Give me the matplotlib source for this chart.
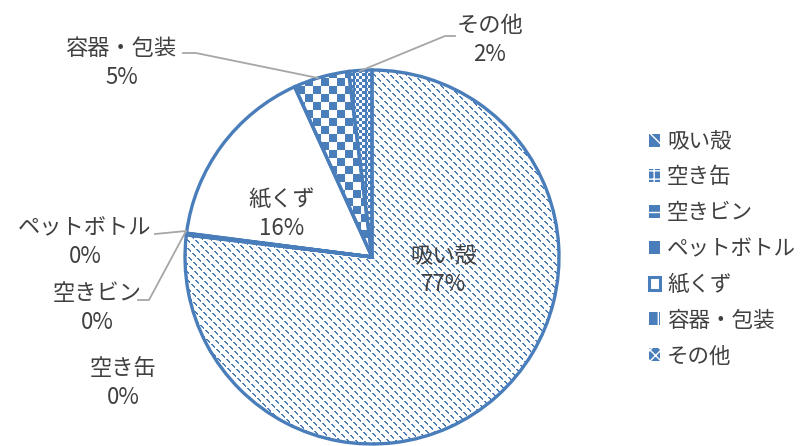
import numpy as np
import matplotlib
matplotlib.use("Agg")
import matplotlib.pyplot as plt
from matplotlib.patches import Patch
from matplotlib.colors import ListedColormap

plt.rcParams['font.family'] = ['Noto Sans CJK JP', 'DejaVu Sans']

categories = ['吸い殻', '空き缶', '空きビン', 'ペットボトル', '紙くず', '容器・包装', 'その他']
values = [77.0, 0.05, 0.05, 0.05, 16.2, 4.8, 2.0]

BLUE = '#4A7EBB'
TXT = '#404040'
GRAY = '#A6A6A6'

W, H = 809, 446
fig = plt.figure(figsize=(W / 100, H / 100), dpi=100)
cx, cy, R = 372, 257, 187
ax = fig.add_axes([(cx - R) / W, (H - cy - R) / H, 2 * R / W, 2 * R / H])

faces = ['white', BLUE, BLUE, BLUE, 'white', 'white', 'white']
wedges, _ = ax.pie(values, startangle=90, counterclock=False, radius=1,
                   colors=faces, wedgeprops=dict(linewidth=0))
for w in wedges:
    w.set_zorder(1)

# pattern images
N = 2 * R
rr, cc = np.mgrid[0:N, 0:N]
diag = (((cc - rr) % 8) < 2) & (((cc + rr) % 10) < 7)
checker = (((rr // 8) + (cc // 8)) % 2 == 0)
fine = (((rr // 3) + (cc // 3)) % 2 == 0) | ((cc % 12) < 2)

cmap = ListedColormap(['white', BLUE])
for idx, pat in [(0, diag), (5, checker), (6, fine)]:
    im = ax.imshow(pat.astype(float), cmap=cmap, vmin=0, vmax=1,
                   extent=(-1, 1, -1, 1), interpolation='nearest', zorder=2)
    im.set_clip_path(wedges[idx])

# edges on top
edge_w, _ = ax.pie(values, startangle=90, counterclock=False, radius=1,
                   wedgeprops=dict(fill=False, edgecolor=BLUE, linewidth=2.4))
for w in edge_w:
    w.set_zorder(3)

ax.set_xlim(-1, 1)
ax.set_ylim(-1, 1)
ax.set_aspect('equal')
ax.axis('off')

def P(px, py):
    return ((px - cx) / R, (cy - py) / R)

total = sum(values)
labels = [f"{c}\n{round(v / total * 100):.0f}%" for c, v in zip(categories, values)]
label_pos = {
    0: (444, 270),
    1: (123, 383),
    2: (97, 308),
    3: (85, 242),
    4: (282, 214),
    5: (122, 63),
    6: (490, 40),
}
for i, lab in enumerate(labels):
    x, y = P(*label_pos[i])
    ax.text(x, y, lab, ha='center', va='center', fontsize=16, color=TXT,
            linespacing=1.3, zorder=5)

# leader lines
leaders = [
    [(183, 53), (196, 53), (318, 78)],
    [(360, 71), (445, 36), (455, 36)],
    [(155, 234), (186, 231)],
    [(138, 300), (149, 300), (186, 231)],
]
for pts in leaders:
    xs, ys = zip(*[P(*p) for p in pts])
    ax.plot(xs, ys, color=GRAY, lw=1.3, zorder=4, clip_on=False)

# legend
handles = [
    Patch(facecolor=BLUE, edgecolor='white', hatch='\\\\', linewidth=0),
    Patch(facecolor=BLUE, edgecolor='white', hatch='++', linewidth=0),
    Patch(facecolor=BLUE, edgecolor='white', hatch='--', linewidth=0),
    Patch(facecolor=BLUE, edgecolor=BLUE, linewidth=0),
    Patch(facecolor='white', edgecolor=BLUE, linewidth=2.2),
    Patch(facecolor=BLUE, edgecolor='white', hatch='|', linewidth=0),
    Patch(facecolor=BLUE, edgecolor='white', hatch='xxx', linewidth=0),
]
leg = fig.legend(handles, categories, loc='center left',
                 bbox_to_anchor=(640 / W, 1 - 249 / H), frameon=False,
                 fontsize=15.5, handlelength=0.55, handleheight=0.55,
                 handletextpad=0.3, labelspacing=0.64, labelcolor=TXT,
                 borderaxespad=0)

fig.savefig('out.png', dpi=100)
